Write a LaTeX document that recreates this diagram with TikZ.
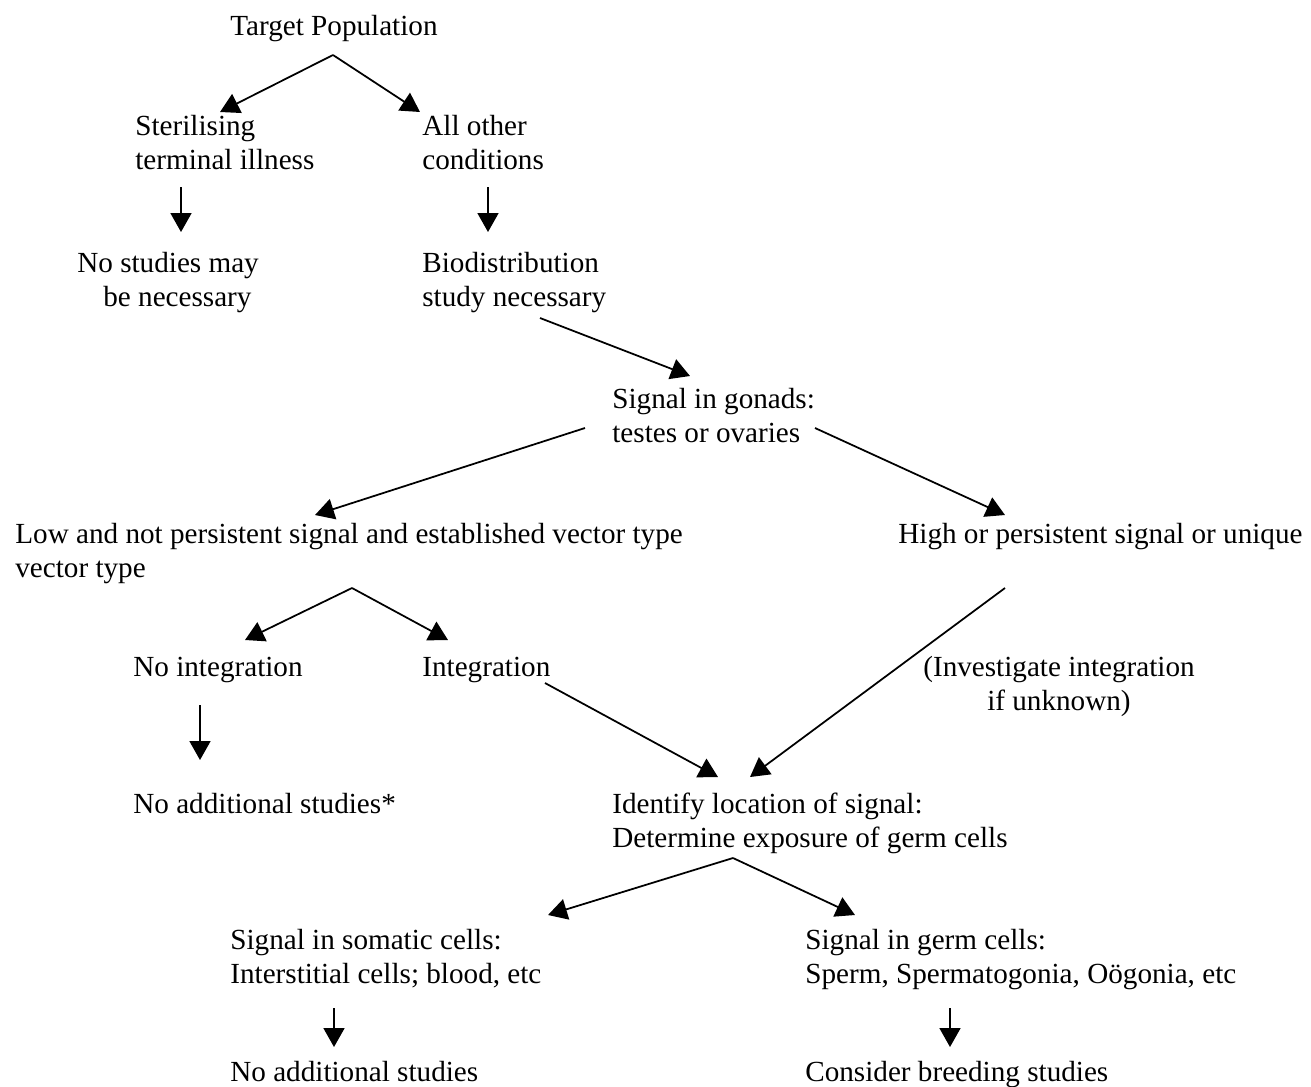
\documentclass[tikz,border=0pt]{standalone}
\usepackage{fontspec}
\setmainfont{Liberation Serif}
\usepackage{tikz}
\usetikzlibrary{arrows.meta,calc}

\begin{document}
\begin{tikzpicture}[
  x=0.02cm,y=-0.02cm,
  font=\fontsize{16.6pt}{19.35pt}\selectfont,
  txt/.style  ={inner sep=0pt,anchor=base west,align=left},
  arrow/.style={-{Triangle[length=0.38cm,width=0.42cm]},line width=1pt,black}
]
\useasboundingbox (0,0) rectangle (1311,1086);
% Text blocks placed at the baseline of their last line (pixel grid of the page)
\node[txt] (tp)     at (230,35)   {Target Population};
\node[txt] (ster)   at (135,169)  {Sterilising\\terminal illness};
\node[txt] (other)  at (422,169)  {All other\\conditions};
\node[txt] (nostud) at (77,306)   {No studies may\\\hspace*{0.52cm}be necessary};
\node[txt] (bio)    at (422,306)  {Biodistribution\\study necessary};
\node[txt] (gon)    at (612,442)  {Signal in gonads:\\testes or ovaries};
\node[txt] (low)    at (15,577)   {Low and not persistent signal and established vector type\\vector type};
\node[txt] (high)   at (898,543)  {High or persistent signal or unique};
\node[txt] (noint)  at (133,676)  {No integration};
\node[txt] (integ)  at (422,676)  {Integration};
\node[txt,align=center] (inv) at (923,710) {(Investigate integration\\if unknown)};
\node[txt] (noadd1) at (133,813)  {No additional studies*};
\node[txt] (ident)  at (612,847)  {Identify location of signal:\\Determine exposure of germ cells};
\node[txt] (som)    at (230,983)  {Signal in somatic cells:\\Interstitial cells; blood, etc};
\node[txt] (germ)   at (805,983)  {Signal in germ cells:\\Sperm, Spermatogonia, Oögonia, etc};
\node[txt] (noadd2) at (230,1081) {No additional studies};
\node[txt] (breed)  at (805,1081) {Consider breeding studies};
% Arrows
\draw[arrow] ($(tp.base west)+(103,20)$)    -- ($(ster.base west)+(85,-57)$);
\draw[arrow] ($(tp.base west)+(103,20)$)    -- ($(other.base west)+(-2,-57)$);
\draw[arrow] ($(ster.base west)+(46,18)$)   -- ($(nostud.base west)+(104,-74)$);
\draw[arrow] ($(other.base west)+(66,18)$)  -- ($(bio.base west)+(66,-74)$);
\draw[arrow] ($(bio.base west)+(118,12)$)   -- ($(gon.base west)+(78,-66)$);
\draw[arrow] ($(gon.base west)+(-27,-14)$)  -- ($(low.base west)+(300,-62)$);
\draw[arrow] ($(gon.base west)+(203,-14)$)  -- ($(high.base west)+(107,-28)$);
\draw[arrow] ($(low.base west)+(337,11)$)   -- ($(noint.base west)+(112,-36)$);
\draw[arrow] ($(low.base west)+(337,11)$)   -- ($(integ.base west)+(26,-36)$);
\draw[arrow] ($(noint.base west)+(67,29)$)  -- ($(noadd1.base west)+(67,-53)$);
\draw[arrow] ($(integ.base west)+(123,7)$)  -- ($(ident.base west)+(106,-70)$);
\draw[arrow] ($(high.base west)+(107,45)$)  -- ($(ident.base west)+(138,-70)$);
\draw[arrow] ($(ident.base west)+(121,11)$) -- ($(som.base west)+(318,-68)$);
\draw[arrow] ($(ident.base west)+(121,11)$) -- ($(germ.base west)+(50,-68)$);
\draw[arrow] ($(som.base west)+(104,25)$)   -- ($(noadd2.base west)+(104,-34)$);
\draw[arrow] ($(germ.base west)+(145,25)$)  -- ($(breed.base west)+(145,-34)$);
\end{tikzpicture}
\end{document}
